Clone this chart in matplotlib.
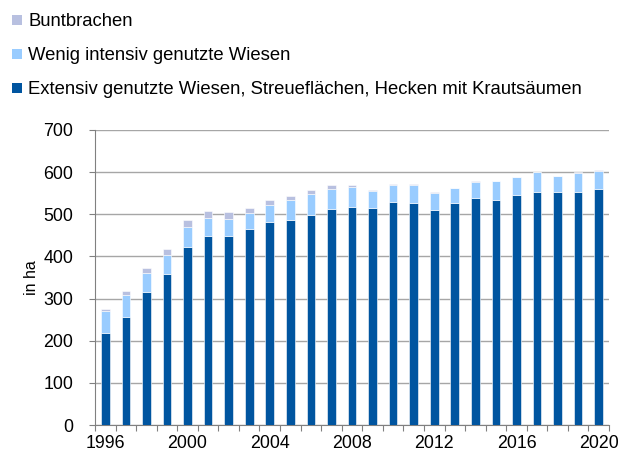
import numpy as np
import matplotlib
matplotlib.use('Agg')
import matplotlib.pyplot as plt
from matplotlib.patches import Patch

plt.rcParams['font.family'] = ['Liberation Sans', 'DejaVu Sans']

years = list(range(1996, 2021))
# Extensiv genutzte Wiesen, Streueflächen, Hecken mit Krautsäumen
extensiv = [219, 257, 316, 358, 423, 448, 449, 466, 482, 487, 499, 512, 517,
            516, 528, 526, 511, 526, 538, 533, 546, 554, 553, 554, 559]
# Wenig intensiv genutzte Wiesen
wenig = [52, 51, 45, 45, 46, 42, 39, 36, 39, 46, 48, 47, 47,
         39, 41, 44, 40, 36, 39, 46, 42, 46, 38, 45, 44]
# Buntbrachen
bunt = [5, 9, 12, 14, 17, 18, 18, 13, 13, 10, 11, 10, 6,
        3, 3, 1, 3, 1, 1, 1, 1, 1, 1, 1, 1]

labels = ['Extensiv genutzte Wiesen, Streueflächen, Hecken mit Krautsäumen',
          'Wenig intensiv genutzte Wiesen',
          'Buntbrachen']
colors = ['#0055A0', '#99CCFF', '#B8C0E0']

fig = plt.figure(figsize=(6.18, 4.54), dpi=100)
ax = fig.add_axes([95 / 618, 1 - 425 / 454, 514 / 618, 295 / 454])

x = np.arange(len(years))
w = 0.42
ax.bar(x, extensiv, w, color=colors[0], edgecolor='white', linewidth=0.4, zorder=3)
ax.bar(x, wenig, w, bottom=extensiv, color=colors[1], edgecolor='white', linewidth=0.4, zorder=3)
bottom2 = np.array(extensiv) + np.array(wenig)
ax.bar(x, bunt, w, bottom=bottom2, color=colors[2], edgecolor='white', linewidth=0.4, zorder=3)

ax.set_xlim(-0.5, len(years) - 0.5)
ax.set_ylim(0, 700)
ax.set_yticks(range(0, 701, 100))
ax.yaxis.grid(True, color='#A6A6A6', linewidth=1.0, zorder=0)

# year labels every 4 years, tick marks between categories
ax.set_xticks(x[::4])
ax.set_xticklabels([str(y) for y in years[::4]])
ax.tick_params(axis='x', length=0, pad=7)
ax.set_xticks(np.arange(-0.5, len(years), 1), minor=True)
ax.tick_params(axis='x', which='minor', length=4, color='#808080', width=0.8)
ax.tick_params(axis='y', length=4.5, color='#808080', width=0.8, pad=11)
ax.tick_params(labelsize=12.8)

for s in ['top', 'right']:
    ax.spines[s].set_visible(False)
for s in ['left', 'bottom']:
    ax.spines[s].set_color('#808080')
    ax.spines[s].set_linewidth(0.8)

ax.set_ylabel('in ha', fontsize=11.5, labelpad=3)

handles = [Patch(facecolor=colors[i], edgecolor='none', label=labels[i]) for i in [2, 1, 0]]
fig.legend(handles=handles, loc='upper left', bbox_to_anchor=(5 / 618, 1 - 6 / 454),
           frameon=False, fontsize=13.3, handlelength=0.5, handleheight=0.5,
           handletextpad=0.35, labelspacing=0.92, borderaxespad=0)

fig.savefig('out.png', dpi=100)
